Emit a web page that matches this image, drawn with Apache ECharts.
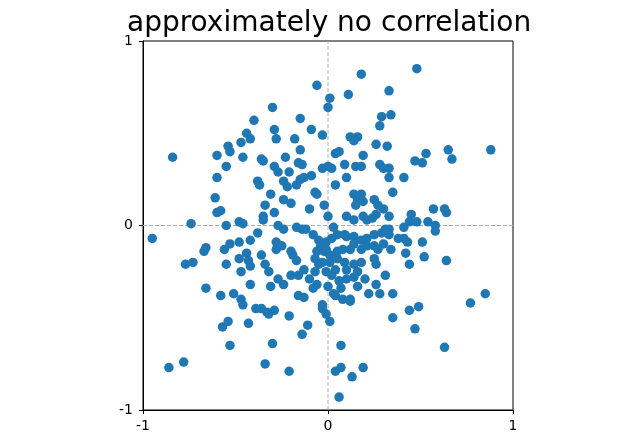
<!DOCTYPE html>
<html>
<head>
<meta charset="utf-8">
<script src="https://cdn.jsdelivr.net/npm/echarts@6/dist/echarts.min.js"></script>
<style>html,body{margin:0;padding:0;background:#fff;}#c{width:640px;height:441px;}</style>
</head>
<body>
<div id="c"></div>
<script>
const titleText = 'approximately no correlation';
const tickValues = [-1, 0, 1];

// outer points
const outerX = [
0.18,-0.06,0.01,0.00,0.11,0.33,-0.30,-0.15,0.29,0.34,
-0.29,-0.09,0.28,-0.28,-0.18,-0.03,0.12,0.16,0.14,0.26,
0.32,-0.23,-0.15,0.04,0.06,0.19,-0.16,-0.14,-0.29,0.00,
0.09,0.15,0.18,0.28,0.48,0.65,0.67,0.53,0.47,0.51,
0.88,-0.40,-0.44,-0.42,-0.47,-0.54,-0.53,-0.60,-0.46,-0.84,
-0.55,-0.36,-0.35,-0.60,-0.38,-0.37,-0.61,-0.34,-0.60,-0.58,
-0.35,-0.35,-0.74,-0.55,-0.48,-0.46,-0.38,-0.95,-0.42,-0.53,
-0.56,-0.48,-0.66,-0.67,-0.44,-0.36,-0.48,-0.43,-0.42,-0.34,
-0.77,-0.73,-0.55,-0.47,-0.42,-0.66,-0.51,-0.58,-0.47,-0.46,
-0.39,-0.36,-0.33,-0.54,-0.57,-0.43,-0.53,-0.78,-0.86,-0.34,
-0.16,-0.13,-0.08,0.03,0.04,0.07,0.08,0.12,0.12,0.22,
0.28,0.35,-0.32,-0.29,-0.21,-0.03,-0.03,-0.01,0.01,0.35,
-0.11,-0.14,-0.30,0.07,-0.21,0.04,0.07,0.13,0.19,0.06,
0.49,0.44,0.47,0.63,0.77,0.85,0.33,0.33,0.41,0.35,
0.57,0.63,0.64,0.33,0.45,0.44,0.48,0.54,0.41,0.58,
0.58,0.33,0.33,0.38,0.41,0.43,0.51,0.34,0.42,0.52,
0.44,0.64
];
const outerY = [
0.82,0.76,0.69,0.64,0.71,0.73,0.64,0.58,0.59,0.60,
0.52,0.52,0.54,0.47,0.47,0.49,0.48,0.48,0.46,0.44,
0.43,0.37,0.41,0.39,0.40,0.38,0.34,0.33,0.32,0.32,
0.33,0.32,0.32,0.33,0.85,0.41,0.36,0.39,0.35,0.34,
0.41,0.57,0.50,0.47,0.45,0.43,0.40,0.38,0.37,0.37,
0.32,0.36,0.35,0.26,0.24,0.22,0.15,0.11,0.07,0.08,
0.05,0.03,0.01,0.00,0.02,0.01,-0.04,-0.07,-0.08,-0.10,
-0.13,-0.09,-0.12,-0.14,-0.15,-0.16,-0.18,-0.19,-0.22,-0.21,
-0.21,-0.20,-0.21,-0.25,-0.32,-0.34,-0.37,-0.38,-0.40,-0.43,
-0.45,-0.45,-0.47,-0.52,-0.55,-0.53,-0.65,-0.74,-0.77,-0.75,
-0.38,-0.39,-0.34,-0.37,-0.38,-0.34,-0.40,-0.40,-0.41,-0.37,
-0.37,-0.37,-0.48,-0.46,-0.49,-0.43,-0.45,-0.48,-0.52,-0.50,
-0.54,-0.59,-0.64,-0.65,-0.79,-0.79,-0.77,-0.82,-0.77,-0.93,
-0.44,-0.46,-0.56,-0.66,-0.42,-0.37,0.31,0.26,0.26,0.18,
0.09,0.09,0.07,0.05,0.06,0.02,0.02,0.02,-0.01,0.00,
-0.03,-0.02,-0.05,-0.07,-0.07,-0.09,-0.09,-0.13,-0.15,-0.17,
-0.21,-0.19
];

// central cluster
const centerX = [
-0.27,-0.21,-0.24,-0.22,-0.17,-0.15,-0.13,-0.09,-0.03,0.02,
0.04,0.10,0.30,-0.07,-0.06,-0.02,-0.31,-0.24,-0.20,0.14,
0.16,0.18,0.15,0.19,0.25,0.27,0.30,-0.29,-0.10,0.00,
0.03,0.10,0.14,0.19,0.21,0.24,0.26,-0.27,-0.24,-0.17,
-0.14,-0.12,-0.08,-0.05,-0.01,0.02,0.05,0.09,0.10,0.14,
0.18,0.21,0.25,0.29,0.31,-0.28,-0.25,-0.28,-0.20,-0.19,
-0.17,-0.04,-0.06,-0.02,-0.01,0.01,0.05,0.08,0.12,0.14,
0.18,0.21,0.25,0.27,0.30,-0.07,-0.05,-0.03,0.01,0.05,
0.09,0.10,0.14,0.16,0.18,0.25,0.26,-0.32,-0.27,-0.20,
-0.16,-0.13,-0.10,-0.07,-0.01,0.02,0.04,0.06,0.10,0.14,
0.20,0.26,0.31,-0.31,-0.24,-0.06,0.00,0.16
];
const centerY = [
0.29,0.29,0.24,0.21,0.22,0.25,0.26,0.27,0.31,0.31,
0.22,0.26,0.31,0.18,0.17,0.11,0.17,0.14,0.12,0.17,
0.14,0.17,0.11,0.13,0.14,0.11,0.09,0.07,0.09,0.05,
-0.01,0.05,0.03,0.05,0.03,0.04,0.06,0.00,-0.02,-0.01,
-0.02,-0.02,-0.05,-0.08,-0.09,-0.07,-0.05,-0.05,-0.06,-0.06,
-0.08,-0.07,-0.05,-0.04,-0.02,-0.09,-0.11,-0.13,-0.14,-0.16,
-0.19,-0.11,-0.14,-0.14,-0.13,-0.16,-0.14,-0.13,-0.13,-0.10,
-0.13,-0.11,-0.11,-0.13,-0.10,-0.18,-0.21,-0.20,-0.20,-0.18,
-0.20,-0.24,-0.21,-0.25,-0.20,-0.18,-0.21,-0.25,-0.29,-0.27,
-0.27,-0.24,-0.29,-0.25,-0.25,-0.27,-0.24,-0.30,-0.29,-0.28,
-0.29,-0.32,-0.27,-0.33,-0.32,-0.32,-0.33,-0.33
];

const xs = outerX.concat(centerX);
const ys = outerY.concat(centerY);
const points = xs.map((x, i) => [x, ys[i]]);

const chart = echarts.init(document.getElementById('c'), null, {renderer: 'canvas'});
const font = 'DejaVu Sans';
const axisCommon = {
  type: 'value', min: -1, max: 1, interval: 1,
  axisLine: {show: true, onZero: false, lineStyle: {color: '#000', width: 1}},
  axisTick: {show: true, inside: false, length: 4, lineStyle: {color: '#000', width: 1}},
  axisLabel: {show: true, color: '#000', fontSize: 14, fontFamily: font, margin: 8,
              showMinLabel: true, showMaxLabel: true,
              formatter: v => tickValues.includes(v) ? String(v) : ''},
  splitLine: {show: false}
};
chart.setOption({
  animation: false,
  title: {text: titleText, left: 122, top: 5,
          textStyle: {fontSize: 28, fontWeight: 'normal', color: '#000', fontFamily: font}},
  grid: {left: 143, top: 41, width: 370, height: 369, show: true,
         borderColor: '#000', borderWidth: 1, backgroundColor: 'transparent'},
  xAxis: Object.assign({}, axisCommon, {position: 'bottom',
         axisLabel: Object.assign({}, axisCommon.axisLabel, {margin: 9})}),
  yAxis: Object.assign({}, axisCommon, {position: 'left',
         axisLabel: Object.assign({}, axisCommon.axisLabel, {margin: 10})}),
  series: [
    {type: 'line', data: [[0, -1], [0, 1]], symbol: 'none', z: 1, silent: true,
     lineStyle: {color: '#b0b0b0', width: 1, type: [4, 2]}},
    {type: 'line', data: [[-1, 0], [1, 0]], symbol: 'none', z: 1, silent: true,
     lineStyle: {color: '#b0b0b0', width: 1, type: [4, 2]}},
    {type: 'scatter', data: points, symbol: 'circle', symbolSize: 9.5, z: 3,
     itemStyle: {color: '#1f77b4', opacity: 1}}
  ]
});
</script>
</body>
</html>
